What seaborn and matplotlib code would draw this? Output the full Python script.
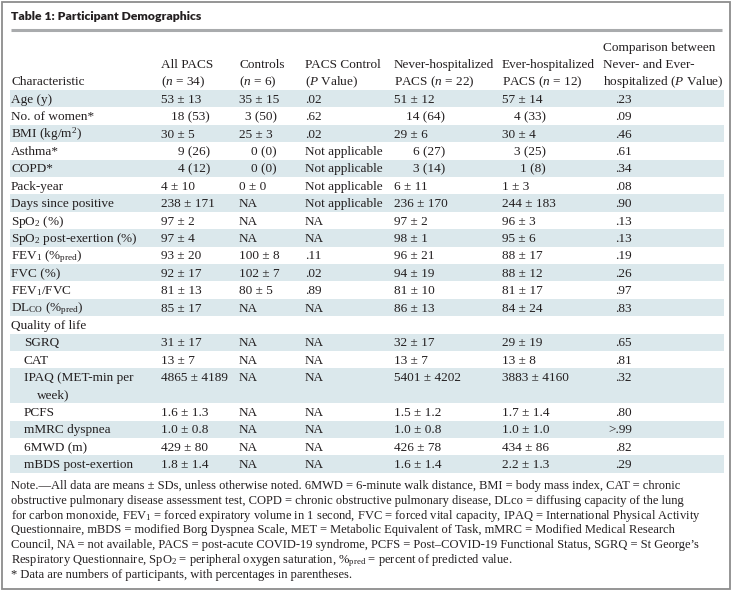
import matplotlib
matplotlib.use("Agg")
import matplotlib.pyplot as plt
import seaborn as sns

# table content
characteristics = ["Age (y)", "No. of women*", "BMI (kg/m$^2$)", "Asthma*", "COPD*", "Pack-year",
                   "Days since positive", "SpO$_2$ (%)", "SpO$_2$ post-exertion (%)",
                   "FEV$_1$ (%$_{\\mathrm{pred}}$)", "FVC (%)", "FEV$_1$/FVC",
                   "DL$_{\\mathrm{CO}}$ (%$_{\\mathrm{pred}}$)", "Quality of life", "SGRQ", "CAT",
                   "IPAQ (MET-min per\nweek)", "PCFS", "mMRC dyspnea", "6MWD (m)", "mBDS post-exertion"]
indented = [False] * 14 + [True] * 7

all_pacs = ["53 ± 13", "18 (53)", "30 ± 5", "9 (26)", "4 (12)", "4 ± 10", "238 ± 171", "97 ± 2",
            "97 ± 4", "93 ± 20", "92 ± 17", "81 ± 13", "85 ± 17", "", "31 ± 17", "13 ± 7",
            "4865 ± 4189", "1.6 ± 1.3", "1.0 ± 0.8", "429 ± 80", "1.8 ± 1.4"]
controls = ["35 ± 15", "3 (50)", "25 ± 3", "0 (0)", "0 (0)", "0 ± 0", "NA", "NA", "NA",
            "100 ± 8", "102 ± 7", "80 ± 5", "NA", "", "NA", "NA", "NA", "NA", "NA", "NA", "NA"]
p_control = [".02", ".62", ".02", "Not applicable", "Not applicable", "Not applicable",
             "Not applicable", "NA", "NA", ".11", ".02", ".89", "NA", "", "NA", "NA", "NA",
             "NA", "NA", "NA", "NA"]
never_hosp = ["51 ± 12", "14 (64)", "29 ± 6", "6 (27)", "3 (14)", "6 ± 11", "236 ± 170", "97 ± 2",
              "98 ± 1", "96 ± 21", "94 ± 19", "81 ± 10", "86 ± 13", "", "32 ± 17", "13 ± 7",
              "5401 ± 4202", "1.5 ± 1.2", "1.0 ± 0.8", "426 ± 78", "1.6 ± 1.4"]
ever_hosp = ["57 ± 14", "4 (33)", "30 ± 4", "3 (25)", "1 (8)", "1 ± 3", "244 ± 183", "96 ± 3",
             "95 ± 6", "88 ± 17", "88 ± 12", "81 ± 17", "84 ± 24", "", "29 ± 19", "13 ± 8",
             "3883 ± 4160", "1.7 ± 1.4", "1.0 ± 1.0", "434 ± 86", "2.2 ± 1.3"]
p_compare = [".23", ".09", ".46", ".61", ".34", ".08", ".90", ".13", ".13", ".19", ".26", ".97",
             ".83", "", ".65", ".81", ".32", ".80", ">.99", ".82", ".29"]

headers = [["Characteristic"],
           ["All PACS", "($n$ = 34)"],
           ["Controls", "($n$ = 6)"],
           ["PACS Control", "($P$ Value)"],
           ["Never-hospitalized", "PACS ($n$ = 22)"],
           ["Ever-hospitalized", "PACS ($n$ = 12)"],
           ["Comparison between", "Never- and Ever-", "hospitalized ($P$ Value)"]]

note_lines = [
    "Note.—All data are means ± SDs, unless otherwise noted. 6MWD = 6-minute walk distance, BMI = body mass index, CAT = chronic",
    "obstructive pulmonary disease assessment test, COPD = chronic obstructive pulmonary disease, DLco = diffusing capacity of the lung",
    "for carbon monoxide, FEV$_1$ = forced expiratory volume in 1 second, FVC = forced vital capacity, IPAQ = International Physical Activity",
    "Questionnaire, mBDS = modified Borg Dyspnea Scale, MET = Metabolic Equivalent of Task, mMRC = Modified Medical Research",
    "Council, NA = not available, PACS = post-acute COVID-19 syndrome, PCFS = Post–COVID-19 Functional Status, SGRQ = St George’s",
    "Respiratory Questionnaire, SpO$_2$ = peripheral oxygen saturation, %$_{\\mathrm{pred}}$ = percent of predicted value.",
    "* Data are numbers of participants, with percentages in parentheses.",
]

sns.set_theme(style="white")
plt.rcParams["font.family"] = ["Liberation Serif", "DejaVu Serif"]
plt.rcParams["mathtext.fontset"] = "custom"
plt.rcParams["mathtext.rm"] = "Liberation Serif"
plt.rcParams["mathtext.it"] = "Liberation Serif:italic"
plt.rcParams["mathtext.bf"] = "Liberation Serif:bold"

TXT = "#231f20"
STRIPE = "#dbe8ec"
FS = 9.5

fig = plt.figure(figsize=(7.33, 5.92), dpi=100)
ax = fig.add_axes([0, 0, 1, 1])
ax.set_xlim(0, 733)
ax.set_ylim(592, 0)
ax.axis("off")

# frame, title and rule
ax.add_patch(plt.Rectangle((2, 2), 728, 587, fill=False, ec="#8c8c8c", lw=1.3))
ax.text(11, 16, "Table 1: Participant Demographics", family="Lato", weight="heavy",
        fontsize=8.8, color=TXT, va="center")
ax.plot([11, 722], [29.5, 29.5], color="#a9abad", lw=2.2, solid_capstyle="butt")

col_x = [11, 161, 239, 305, 394, 502, 603]
for x, lines in zip(col_x, headers):
    for i, line in enumerate(lines[::-1]):
        ax.text(x, 85 - i * 16.8, line, fontsize=FS, color=TXT, va="baseline")

# body
top0, pitch = 90, 17.4
count_right = [210, 277, None, 445, 546]
u = 0
for r, name in enumerate(characteristics):
    n_lines = name.count("\n") + 1
    top = top0 + u * pitch
    h = n_lines * pitch
    if r % 2 == 0:
        ax.axhspan(top, top + h, xmin=9.5 / 733, xmax=723.5 / 733, color=STRIPE, lw=0)
    base = top + 12.8
    x0 = 24 if indented[r] else 11
    for i, part in enumerate(name.split("\n")):
        ax.text(x0 + (13 if i else 0), base + i * pitch, part, fontsize=FS, color=TXT, va="baseline")
    cells = [all_pacs[r], controls[r], p_control[r], never_hosp[r], ever_hosp[r]]
    for c, val in enumerate(cells):
        if "(" in val and count_right[c] is not None:
            ax.text(count_right[c], base, val, fontsize=FS, color=TXT, va="baseline", ha="right")
        else:
            ax.text(col_x[c + 1], base, val, fontsize=FS, color=TXT, va="baseline")
    ax.text(632, base, p_compare[r], fontsize=FS, color=TXT, va="baseline", ha="right")
    u += n_lines

# notes
for i, line in enumerate(note_lines):
    ax.text(11, 489 + i * 14.8, line, fontsize=9.0, color=TXT, va="baseline")

fig.savefig("out.png", dpi=100)
